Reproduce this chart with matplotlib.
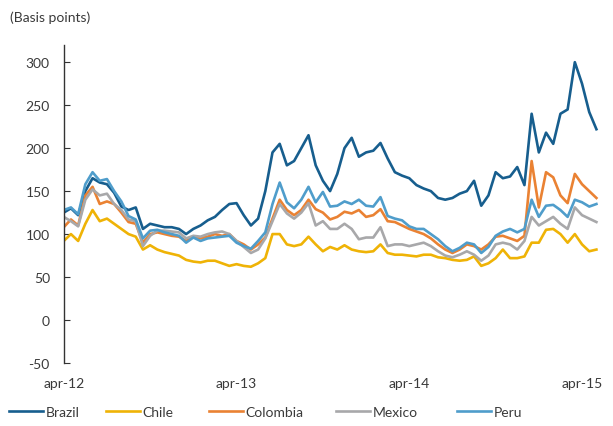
import numpy as np
import matplotlib
matplotlib.use("Agg")
import matplotlib.pyplot as plt

plt.rcParams['font.family'] = ['Lato', 'DejaVu Sans']
plt.rcParams['axes.unicode_minus'] = False

# months since April 2012, half-month steps
months = np.arange(0, 37.5, 0.5)

brazil = [125, 130, 122, 150, 165, 160, 158, 148, 132, 128,
          131, 106, 112, 110, 108, 108, 106, 100, 106, 110,
          116, 120, 128, 135, 136, 122, 110, 118, 150, 195,
          205, 180, 185, 200, 215, 180, 162, 150, 170, 200,
          212, 190, 195, 197, 206, 188, 172, 168, 165, 157,
          153, 150, 142, 140, 142, 147, 150, 162, 133, 145,
          172, 165, 167, 178, 157, 240, 195, 218, 205, 240,
          245, 300, 275, 242, 222]
chile = [92, 100, 92, 112, 128, 115, 118, 112, 106, 100,
         97, 82, 87, 82, 79, 77, 75, 70, 68, 67,
         69, 69, 66, 63, 65, 63, 62, 66, 72, 100,
         100, 88, 86, 88, 97, 88, 80, 85, 82, 87,
         82, 80, 79, 80, 88, 78, 76, 76, 75, 74,
         76, 76, 73, 72, 70, 69, 70, 74, 63, 66,
         72, 82, 72, 72, 74, 90, 90, 105, 106, 100,
         90, 100, 88, 80, 82]
colombia = [108, 117, 110, 145, 155, 135, 138, 135, 125, 114,
            112, 90, 100, 102, 100, 98, 97, 92, 97, 95,
            97, 100, 98, 100, 92, 88, 82, 88, 96, 118,
            140, 128, 122, 128, 140, 129, 125, 117, 120, 126,
            124, 128, 120, 122, 129, 115, 114, 110, 106, 103,
            100, 95, 88, 82, 78, 82, 88, 86, 82, 88,
            97, 98, 95, 92, 98, 185, 131, 172, 166, 145,
            136, 170, 158, 150, 142]
mexico = [120, 115, 109, 140, 152, 145, 147, 135, 128, 117,
          115, 86, 98, 104, 104, 103, 102, 95, 98, 97,
          100, 102, 103, 100, 92, 85, 78, 82, 95, 115,
          135, 124, 118, 125, 136, 110, 115, 106, 106, 112,
          106, 94, 96, 96, 108, 86, 88, 88, 86, 88,
          90, 86, 80, 75, 73, 76, 80, 76, 69, 75,
          88, 90, 88, 82, 92, 120, 110, 115, 120, 112,
          106, 131, 122, 118, 114]
peru = [128, 131, 123, 158, 172, 162, 164, 150, 138, 121,
        117, 95, 104, 105, 102, 100, 98, 90, 96, 92,
        95, 96, 97, 98, 90, 86, 83, 92, 102, 135,
        160, 137, 130, 140, 155, 137, 149, 132, 133, 138,
        135, 140, 133, 132, 143, 121, 118, 116, 109, 106,
        106, 100, 94, 86, 80, 84, 90, 88, 78, 85,
        98, 103, 106, 102, 106, 140, 120, 133, 134, 128,
        120, 140, 137, 132, 135]

names = ['Brazil', 'Chile', 'Colombia', 'Mexico', 'Peru']
colors = ['#175e8e', '#efb306', '#ea8233', '#a8a8aa', '#4f9dcb']
tick_pos = [0, 12, 24, 36]
tick_labels = ['apr-12', 'apr-13', 'apr-14', 'apr-15']

text_color = '#3a3a3a'

fig = plt.figure(figsize=(6.13, 4.27), dpi=100)
ax = fig.add_axes([0.104, 1 - 364 / 427, 0.876, 318 / 427])

lines = []
for name, vals, c in zip(names, [brazil, chile, colombia, mexico, peru], colors):
    ln, = ax.plot(months, vals, color=c, lw=1.9, label=name, solid_joinstyle='round')
    lines.append(ln)

ax.set_ylim(-50, 320)
ax.set_xlim(0, 37.3)
ax.set_yticks(range(-50, 301, 50))
ax.set_xticks(tick_pos)
ax.set_xticklabels(tick_labels)

for s in ['top', 'right', 'bottom']:
    ax.spines[s].set_visible(False)
ax.spines['left'].set_color('#333333')
ax.spines['left'].set_linewidth(1)

ax.tick_params(axis='y', direction='in', length=4, pad=10, labelsize=10,
               colors='#333333', labelcolor=text_color)
ax.tick_params(axis='x', length=0, pad=10, labelsize=10, labelcolor=text_color)

fig.text(10 / 613, 1 - 18 / 427, '(Basis points)', fontsize=10,
         color=text_color, va='center', ha='left')

# legend entries placed along the bottom like the original
leg_x = [10, 107, 210, 337, 458]
for ln, name, x0 in zip(lines, names, leg_x):
    fig.legend([ln], [name], loc='center left',
               bbox_to_anchor=(x0 / 613 - 0.022, 1 - 413 / 427), frameon=False,
               fontsize=10, handlelength=2.45, handletextpad=0.2,
               labelcolor=text_color)

fig.savefig('out.png', dpi=100)
